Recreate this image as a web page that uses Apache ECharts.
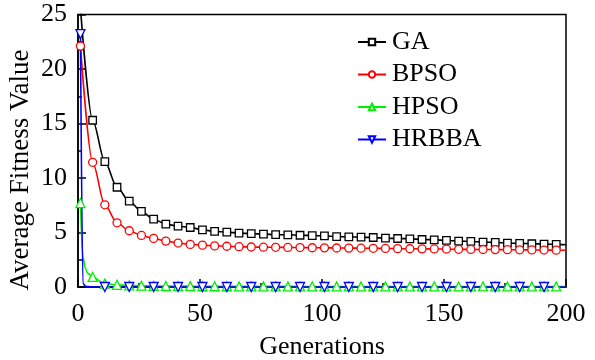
<!DOCTYPE html>
<html>
<head>
<meta charset="utf-8">
<script src="https://cdn.jsdelivr.net/npm/echarts@6/dist/echarts.min.js"></script>
<style>html,body{margin:0;padding:0;background:#fff;}#c{width:595px;height:360px;}</style>
</head>
<body>
<div id="c"></div>
<script>
// ---- data ----
const seriesNames = ['GA', 'BPSO', 'HPSO', 'HRBBA'];
const xTicks = [0, 50, 100, 150, 200];
const yTicks = [0, 5, 10, 15, 20, 25];
const xTitle = 'Generations';
const yTitle = 'Average Fitness Value';

const gaGen = [1,6,11,16,21,26,31,36,41,46,51,56,61,66,71,76,81,86,91,96,101,106,111,116,121,126,131,136,141,146,151,156,161,166,171,176,181,186,191,196,200];
const gaVal = [25.6,15.3,11.5,9.15,7.87,6.93,6.22,5.77,5.58,5.46,5.25,5.10,5.03,4.94,4.90,4.85,4.80,4.78,4.75,4.72,4.69,4.63,4.60,4.57,4.54,4.48,4.45,4.42,4.36,4.33,4.27,4.21,4.18,4.12,4.09,4.03,4.00,3.97,3.94,3.91,3.88];

const bpsoGen = [1,6,11,16,21,26,31,36,41,46,51,56,61,66,71,76,81,86,91,96,101,106,111,116,121,126,131,136,141,146,151,156,161,166,171,176,181,186,191,196,200];
const bpsoVal = [22.1,11.44,7.54,5.89,5.16,4.73,4.46,4.21,4.03,3.91,3.84,3.77,3.74,3.70,3.67,3.65,3.64,3.63,3.62,3.60,3.59,3.58,3.57,3.56,3.55,3.54,3.52,3.51,3.50,3.49,3.48,3.46,3.45,3.44,3.43,3.42,3.41,3.40,3.39,3.38,3.37];

const hpsoGen = [1,2,3,4,6,11,16,21,26,31,36,41,46,51,56,61,66,71,76,81,86,91,96,101,106,111,116,121,126,131,136,141,146,151,156,161,166,171,176,181,186,191,196,200];
const hpsoVal = [7.7,2.8,1.7,1.25,0.92,0.31,0.20,0.15,0.12,0.10,0.09,0.08,0.08,0.07,0.07,0.07,0.06,0.06,0.06,0.06,0.06,0.05,0.05,0.05,0.05,0.05,0.05,0.05,0.05,0.05,0.05,0.05,0.05,0.05,0.05,0.05,0.05,0.05,0.05,0.05,0.05,0.05,0.05,0.05];

const hrbbaGen = [1,2,3,4,6,11,21,31,41,51,61,71,81,91,101,111,121,131,141,151,161,171,181,191,200];
const hrbbaVal = [23.2,0.35,0.08,0.03,0.01,0,0,0,0,0,0,0,0,0,0,0,0,0,0,0,0,0,0,0,0];

// ---- build ----
const FONT = 'Liberation Serif, Times New Roman, serif';
function build(gens, vals, step) {
  return gens.map((g, i) => {
    const item = { value: [g, vals[i]] };
    if ((g - 1) % step !== 0) item.symbol = 'none';
    return item;
  });
}
function mk(name, color, symbol, size, data, rotate) {
  return {
    name, type: 'line', data, smooth: 0.3, smoothMonotone: 'x',
    symbol, symbolSize: size, symbolRotate: rotate || 0, showAllSymbol: true,
    clip: true,
    lineStyle: { color, width: 1.6 },
    itemStyle: { color: '#fff', borderColor: color, borderWidth: 1.3 },
    emphasis: { disabled: true },
    animation: false
  };
}
const chart = echarts.init(document.getElementById('c'), null, { renderer: 'canvas' });
chart.setOption({
  animation: false,
  backgroundColor: '#fff',
  textStyle: { fontFamily: FONT },
  grid: { left: 78, right: 29, top: 14.5, bottom: 73, show: true, borderColor: '#000', borderWidth: 1.5, containLabel: false, outerBoundsMode: 'none' },
  legend: {
    orient: 'vertical', left: 357, top: 29, padding: 0,
    itemWidth: 28, itemHeight: 8, itemGap: 6.5,
    data: seriesNames,
    textStyle: { fontFamily: FONT, fontSize: 26, color: '#000', lineHeight: 26, padding: [0, 0, 0, 1] }
  },
  graphic: [{
    type: 'text', x: 21, y: 170, rotation: Math.PI / 2,
    style: { text: yTitle, fontFamily: FONT, fontSize: 27, fill: '#000', align: 'center', verticalAlign: 'middle' }
  }],
  xAxis: {
    type: 'value', min: xTicks[0], max: xTicks[xTicks.length - 1], interval: 50,
    name: xTitle, nameLocation: 'middle', nameGap: 47,
    nameTextStyle: { fontFamily: FONT, fontSize: 26, color: '#000' },
    axisLine: { show: true, lineStyle: { color: '#000', width: 1.5 } },
    axisTick: { show: true, inside: true, length: 8, lineStyle: { color: '#000', width: 1.5 } },
    minorTick: { show: true, splitNumber: 2, length: 4, lineStyle: { color: '#000', width: 1.5 } },
    splitLine: { show: false },
    axisLabel: { fontFamily: FONT, fontSize: 26, color: '#000', margin: 14 }
  },
  yAxis: {
    type: 'value', min: yTicks[0], max: yTicks[yTicks.length - 1], interval: 5,
    axisLine: { show: true, lineStyle: { color: '#000', width: 1.5 } },
    axisTick: { show: true, inside: true, length: 8, lineStyle: { color: '#000', width: 1.5 } },
    minorTick: { show: true, splitNumber: 2, length: 4, lineStyle: { color: '#000', width: 1.5 } },
    splitLine: { show: false },
    axisLabel: { fontFamily: FONT, fontSize: 26, color: '#000', margin: 11 }
  },
  series: [
    mk('GA', '#000000', 'rect', 7.5, build(gaGen, gaVal, 5)),
    mk('BPSO', '#ff0000', 'circle', 8, build(bpsoGen, bpsoVal, 5)),
    mk('HPSO', '#00ee00', 'triangle', 9, build(hpsoGen, hpsoVal, 5)),
    mk('HRBBA', '#0000ff', 'triangle', 9, build(hrbbaGen, hrbbaVal, 10), 180)
  ]
});
</script>
</body>
</html>
